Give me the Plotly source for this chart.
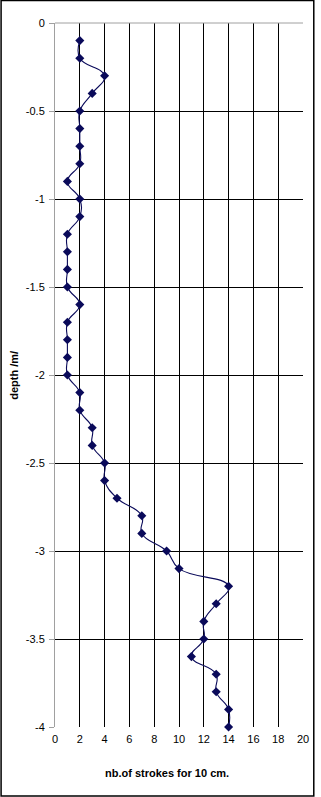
import plotly.graph_objects as go

depth = [-0.1, -0.2, -0.3, -0.4, -0.5, -0.6, -0.7, -0.8, -0.9, -1.0,
         -1.1, -1.2, -1.3, -1.4, -1.5, -1.6, -1.7, -1.8, -1.9, -2.0,
         -2.1, -2.2, -2.3, -2.4, -2.5, -2.6, -2.7, -2.8, -2.9, -3.0,
         -3.1, -3.2, -3.3, -3.4, -3.5, -3.6, -3.7, -3.8, -3.9, -4.0]
strokes = [2, 2, 4, 3, 2, 2, 2, 2, 1, 2,
           2, 1, 1, 1, 1, 2, 1, 1, 1, 1,
           2, 2, 3, 3, 4, 4, 5, 7, 7, 9,
           10, 14, 13, 12, 12, 11, 13, 13, 14, 14]

y_tickvals = [0, -0.5, -1, -1.5, -2, -2.5, -3, -3.5, -4]
y_ticktext = ["0", "-0.5", "-1", "-1.5", "-2", "-2.5", "-3", "-3.5", "-4"]
x_tickvals = [0, 2, 4, 6, 8, 10, 12, 14, 16, 18, 20]
x_ticktext = ["0", "2", "4", "6", "8", "10", "12", "14", "16", "18", "20"]

navy = "#0a0a5a"
font = "Liberation Sans, Arial, sans-serif"

fig = go.Figure()
fig.add_trace(go.Scatter(
    x=strokes, y=depth, mode="lines+markers",
    line=dict(color=navy, width=1.1, shape="spline", smoothing=1.3),
    marker=dict(symbol="diamond", size=7, color=navy),
    showlegend=False, cliponaxis=False,
))

fig.update_layout(
    width=321, height=797,
    margin=dict(l=55, r=13, t=23, b=70),
    paper_bgcolor="white", plot_bgcolor="white",
    font=dict(family=font, size=11, color="black"),
    xaxis=dict(range=[0, 20], tickvals=x_tickvals, ticktext=x_ticktext,
               showgrid=True, gridcolor="black", gridwidth=1,
               zeroline=False, showline=False, ticks="",
               ticklabelstandoff=4, fixedrange=True),
    yaxis=dict(range=[-4, 0], tickvals=y_tickvals, ticktext=y_ticktext,
               showgrid=True, gridcolor="black", gridwidth=1,
               zeroline=False, showline=True, linecolor="#a0a0a0", linewidth=1,
               ticks="outside", ticklen=5, tickcolor="#a0a0a0",
               ticklabelstandoff=2, fixedrange=True),
    shapes=[
        dict(type="line", xref="paper", yref="paper", x0=0, x1=1, y0=1, y1=1,
             line=dict(color="#a0a0a0", width=1), layer="above"),
        dict(type="rect", xref="paper", yref="paper",
             x0=-55/253, x1=1 + 11/253, y0=-69/704, y1=1 + 22.5/704,
             line=dict(color="black", width=1.5), layer="above"),
    ],
    annotations=[
        dict(text="<b>nb.of strokes for 10 cm.</b>", xref="paper", yref="paper",
             x=(169.5 - 55) / 253, y=-(773 - 727) / 704, showarrow=False,
             xanchor="center", yanchor="middle", font=dict(size=11)),
        dict(text="<b>depth /m/</b>", xref="paper", yref="paper",
             x=-(55 - 13) / 253, y=0.5, showarrow=False, textangle=-90,
             xanchor="center", yanchor="middle", font=dict(size=11)),
    ],
)

fig.write_html("out.html")
